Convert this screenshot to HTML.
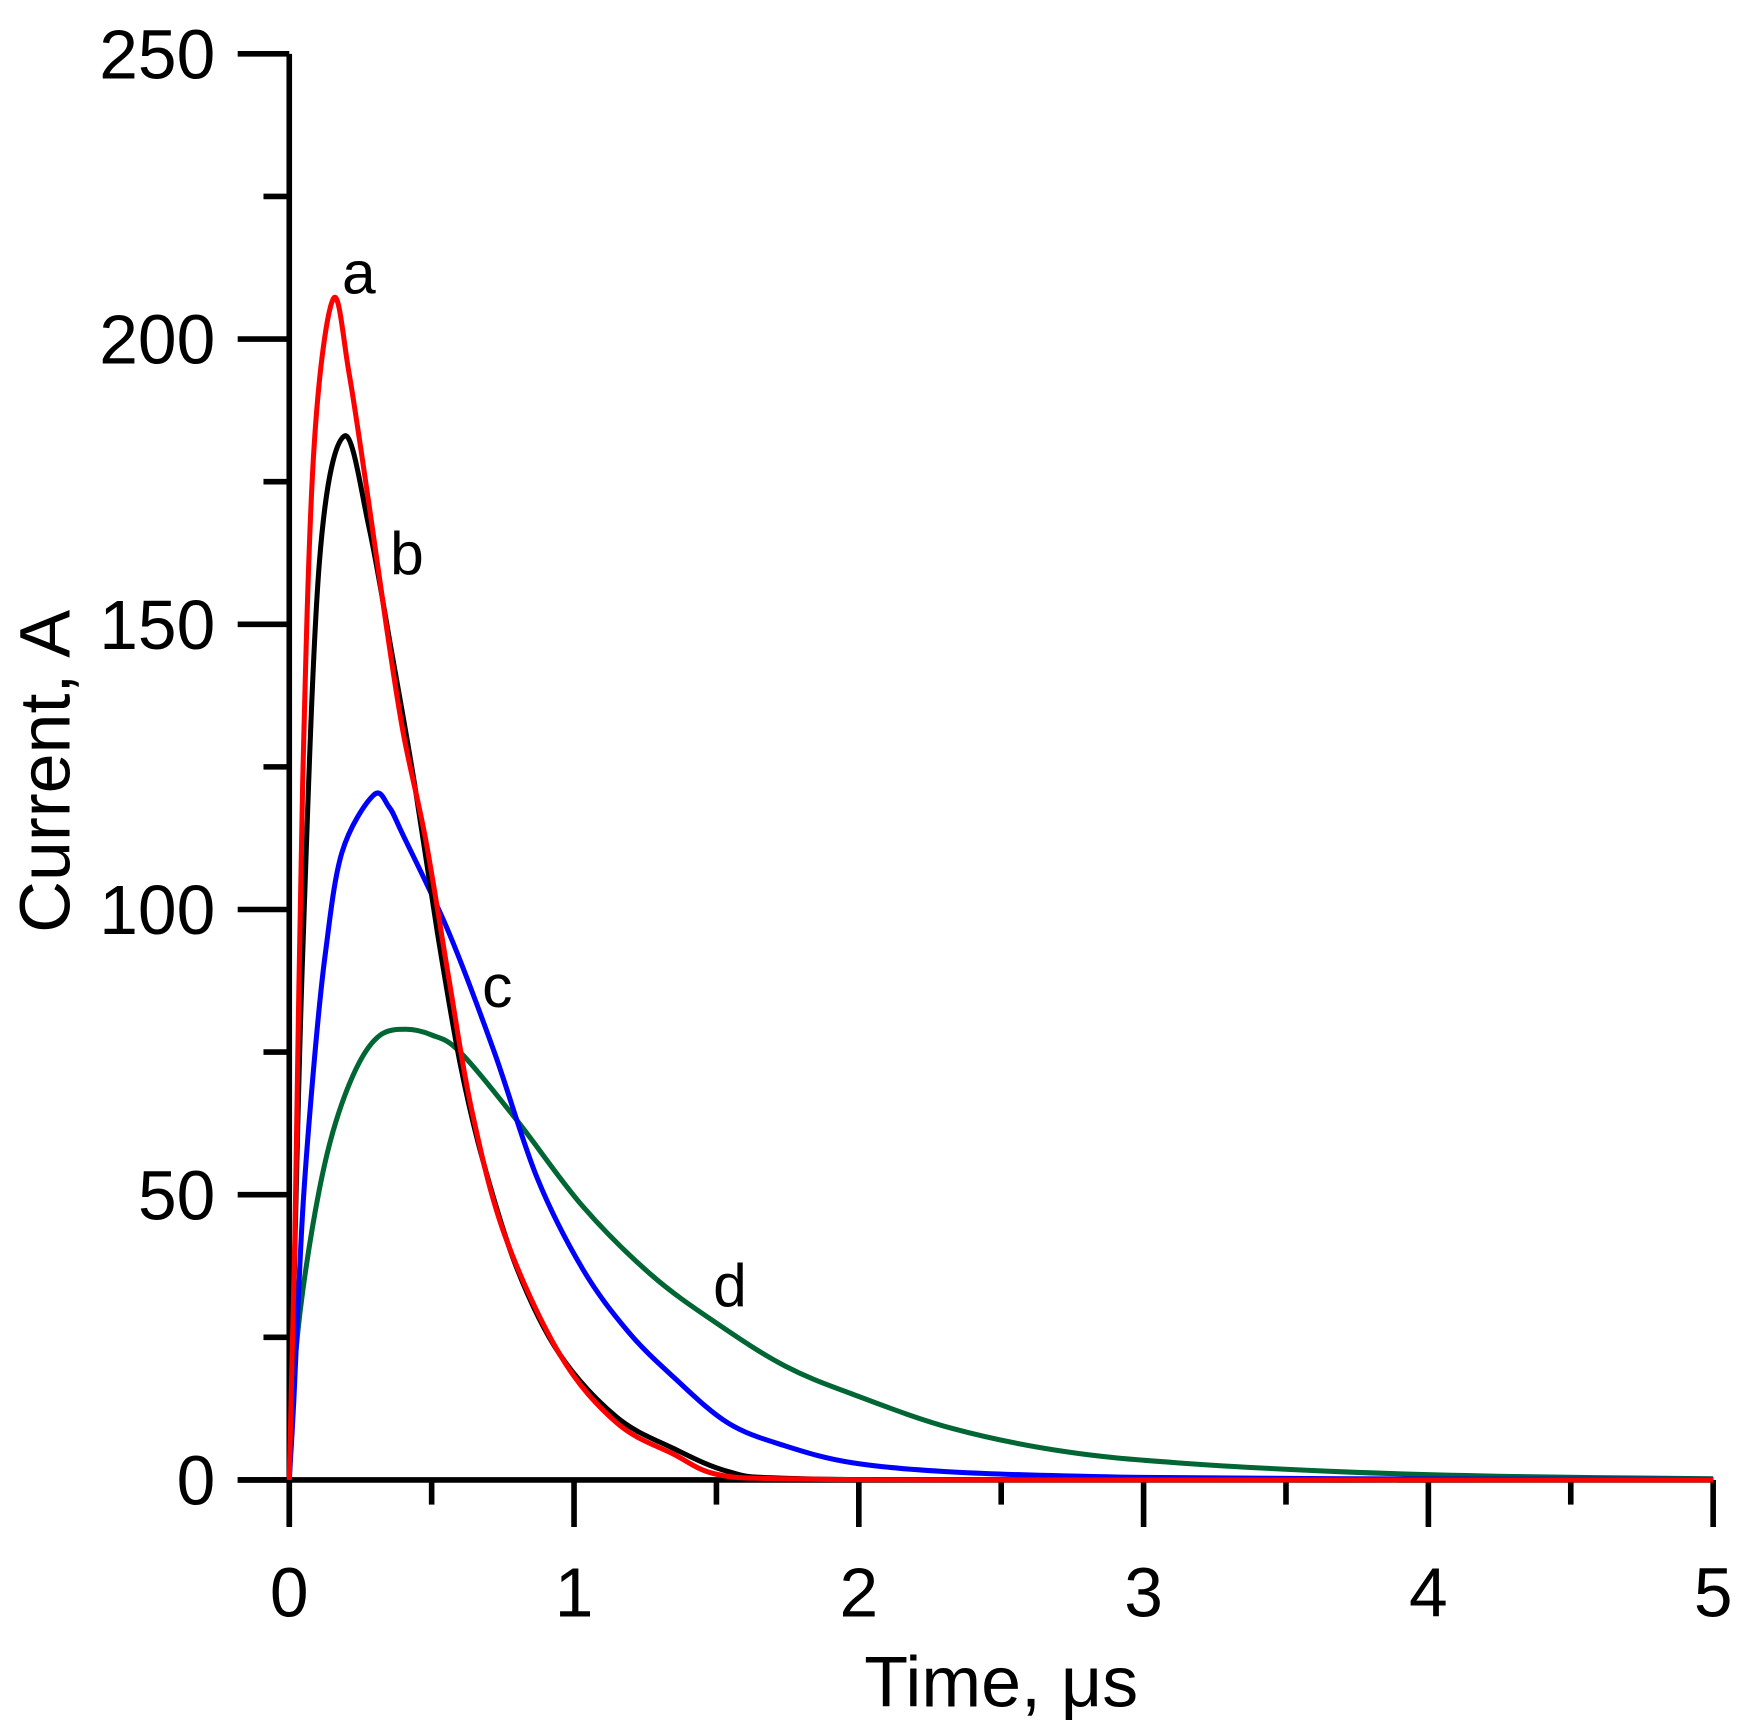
<!DOCTYPE html>
<html><head><meta charset="utf-8"><style>html,body{margin:0;padding:0;background:#fff}svg{display:block}</style></head>
<body>
<svg id="chart" width="1758" height="1734" viewBox="0 0 1568 1546.6" preserveAspectRatio="none" xmlns="http://www.w3.org/2000/svg" font-family="Liberation Sans, Arial, sans-serif">
<g id="axes"></g>
<g id="series"></g>
<text x="893" y="1522" font-size="64" text-anchor="middle">Time, μs</text>
<text transform="translate(62,688) rotate(-90)" font-size="64" text-anchor="middle">Current, A</text>
<text x="305" y="262" font-size="54">a</text>
<text x="348" y="512" font-size="54">b</text>
<text x="430" y="898" font-size="54">c</text>
<text x="636" y="1165" font-size="54">d</text>
</svg>
<script>
const xTicks=[0,0.5,1,1.5,2,2.5,3,3.5,4,4.5,5];
const xTickLabels=["0","1","2","3","4","5"];
const yTicks=[0,25,50,75,100,125,150,175,200,225,250];
const yTickLabels=["0","50","100","150","200","250"];
const tA=[0,0.02,0.047,0.087,0.154,0.21,0.28,0.34,0.4,0.48,0.56,0.64,0.756,0.95,1.15,1.35,1.5,1.75,2.5,5];
const vA=[0,43,122,181,207,194,171,150,131,112,88,65,43,22,10,4.5,1,0.2,0,0];
const tB=[0,0.016,0.047,0.106,0.193,0.28,0.36,0.44,0.52,0.6,0.68,0.8,0.95,1.15,1.35,1.54,1.74,2.5,5];
const vB=[0,33,92,161,183,167,145,122,96,73,56,37,22,11,5.5,1.5,0.3,0,0];
const tC=[0,0.016,0.047,0.087,0.126,0.185,0.295,0.35,0.4,0.56,0.72,0.87,1.03,1.19,1.35,1.54,1.74,1.98,2.33,2.92,3.71,5];
const vC=[0,14,47,73,92,110,120,118,113,96,75,53,37,26,18,10,6,3,1.4,0.5,0.2,0.1];
const tD=[0,0.016,0.047,0.106,0.165,0.244,0.32,0.41,0.5,0.6,0.8,1.03,1.27,1.5,1.74,1.98,2.33,2.72,3.12,3.71,4.3,5];
const vD=[0,18,33,51,63,73,78,79,78,75,63,48,36,27.5,20,15,9,5,3,1.4,0.6,0.2];
const NS="http://www.w3.org/2000/svg";
const X=t=>258+t*254, Y=v=>1320-v*5.088;
function el(tag,attrs,parent){const e=document.createElementNS(NS,tag);for(const k in attrs)e.setAttribute(k,attrs[k]);parent.appendChild(e);return e;}
const axes=document.getElementById('axes');
let e=el('line',{x1:258,y1:Y(250),x2:258,y2:1362,stroke:'#000','stroke-width':5},axes);


e=el('line',{x1:212,y1:1320,x2:X(5),y2:1320,stroke:'#000','stroke-width':5},axes);


yTicks.forEach((v,i)=>{const major=i%2===0;const t=el('line',{x1:major?212:235,y1:Y(v),x2:258,y2:Y(v),stroke:'#000','stroke-width':5},axes);

});
yTickLabels.forEach((s,i)=>{const t=el('text',{x:192,y:Y(i*50)+22,'font-size':62,'text-anchor':'end'},axes);t.textContent=s;

});
xTicks.forEach((v,i)=>{const major=i%2===0;const t=el('line',{x1:X(v),y1:1320,x2:X(v),y2:major?1362:1342,stroke:'#000','stroke-width':5},axes);

});
xTickLabels.forEach((s,i)=>{const t=el('text',{x:X(i),y:1442,'font-size':62,'text-anchor':'middle'},axes);t.textContent=s;

});
const ser=document.getElementById('series');
function path(ts,vs){const p=ts.map((t,i)=>[X(t),Y(vs[i])]);let d='M'+p[0][0]+','+p[0][1];
for(let i=0;i<p.length-1;i++){const p0=p[i-1]||p[i],p1=p[i],p2=p[i+1],p3=p[i+2]||p2;
d+=' C'+(p1[0]+(p2[0]-p0[0])/6)+','+(p1[1]+(p2[1]-p0[1])/6)+' '+(p2[0]-(p3[0]-p1[0])/6)+','+(p2[1]-(p3[1]-p1[1])/6)+' '+p2[0]+','+p2[1];}return d;}
const sd=el('path',{d:path(tD,vD),fill:'none',stroke:'#006633','stroke-width':4.5},ser);


const sc=el('path',{d:path(tC,vC),fill:'none',stroke:'#0000ff','stroke-width':4.5},ser);


const sb=el('path',{d:path(tB,vB),fill:'none',stroke:'#000','stroke-width':4.5},ser);


const sa=el('path',{d:path(tA,vA),fill:'none',stroke:'#ff0000','stroke-width':4.5},ser);


</script>
</body></html>
